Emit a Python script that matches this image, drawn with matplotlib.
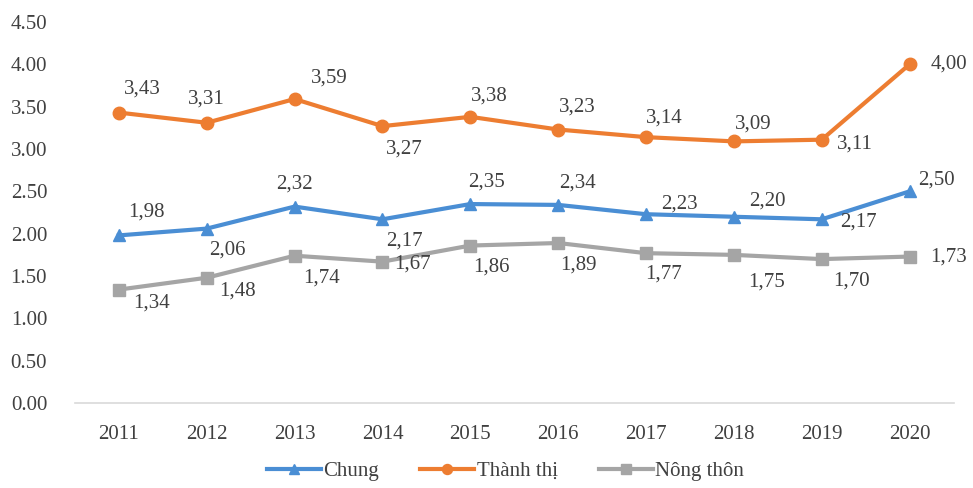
import matplotlib.pyplot as plt

years = ['2011', '2012', '2013', '2014', '2015', '2016', '2017', '2018', '2019', '2020']
chung = [1.98, 2.06, 2.32, 2.17, 2.35, 2.34, 2.23, 2.20, 2.17, 2.50]
thanh_thi = [3.43, 3.31, 3.59, 3.27, 3.38, 3.23, 3.14, 3.09, 3.11, 4.00]
nong_thon = [1.34, 1.48, 1.74, 1.67, 1.86, 1.89, 1.77, 1.75, 1.70, 1.73]
yticks = [0.0, 0.5, 1.0, 1.5, 2.0, 2.5, 3.0, 3.5, 4.0, 4.5]

# label offsets in pixels (dx, dy) for each point
off_chung = [(28, 23), (21, -21), (0, 23), (22, -22), (16, 22), (19, 22), (33, 10), (33, 16), (37, -3), (27, 11)]
off_thanh = [(24, 24), (0, 24), (35, 21), (22, -23), (19, 21), (19, 22), (18, 19), (19, 17), (33, -4), (39, 0)]
off_nong = [(33, -13), (31, -13), (27, -22), (30, -2), (21, -21), (20, -22), (18, -21), (33, -27), (30, -22), (39, 0)]

plt.rcParams['font.family'] = ['Liberation Serif', 'DejaVu Serif']
txt = '#404040'

fig = plt.figure(figsize=(9.73, 4.88), dpi=100)
ax = fig.add_axes([0.077, 0.174, 0.903, 0.781])
x = list(range(len(years)))

series = [
    (chung, 'Chung', '#4a8ed4', '^', off_chung),
    (thanh_thi, 'Thành thị', '#ed7d31', 'o', off_thanh),
    (nong_thon, 'Nông thôn', '#a5a5a5', 's', off_nong),
]
for vals, name, col, mk, offs in series:
    ax.plot(x, vals, color=col, linewidth=3, marker=mk, markersize=9, label=name)
    for i, v in enumerate(vals):
        ax.annotate(('%.2f' % v).replace('.', ','), (i, v), xytext=offs[i],
                    textcoords='offset pixels', ha='center', va='center',
                    fontsize=15, color=txt)

ax.set_xlim(-0.5, len(years) - 0.5)
ax.set_ylim(0, 4.5)
ax.set_xticks(x)
ax.set_xticklabels(years)
ax.set_yticks(yticks)
ax.set_yticklabels(['%.2f' % t for t in yticks])
ax.tick_params(axis='both', length=0, labelsize=15, labelcolor=txt)
ax.tick_params(axis='y', pad=20)
ax.tick_params(axis='x', pad=16)
for s in ['top', 'right', 'left']:
    ax.spines[s].set_visible(False)
ax.spines['bottom'].set_color('#d9d9d9')
ax.spines['bottom'].set_linewidth(1.2)

ax.legend(loc='upper center', bbox_to_anchor=(0.49, -0.115), ncol=3, frameon=False,
          fontsize=15, labelcolor=txt, handlelength=2.6, handletextpad=0.1,
          columnspacing=2.0, markerscale=0.8, borderpad=0.2)

plt.savefig('out.png', dpi=100)
